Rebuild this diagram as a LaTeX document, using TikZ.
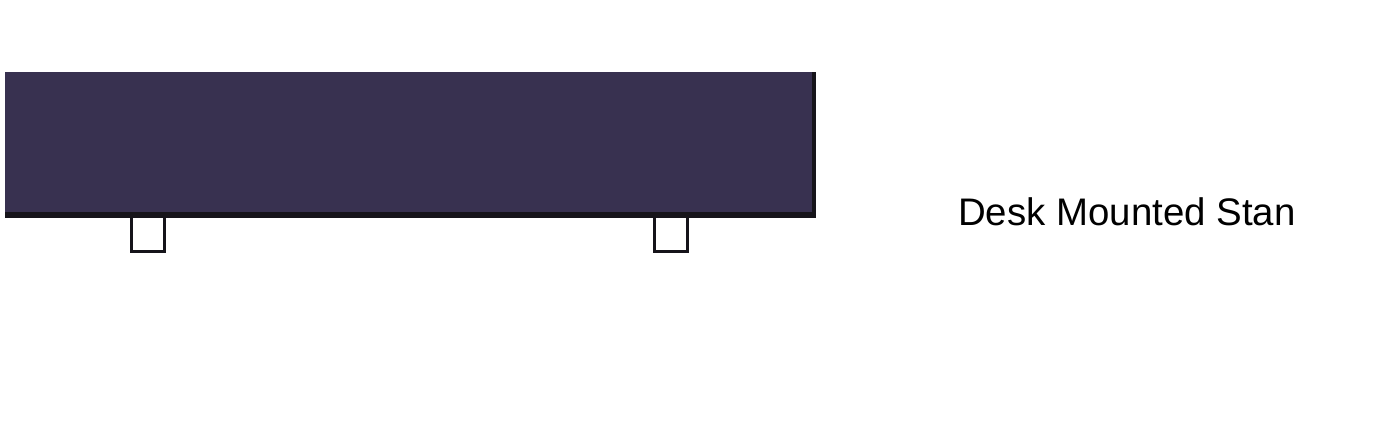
\documentclass[tikz,border=0pt]{standalone}
\usepackage{fontspec}
\setmainfont{Liberation Sans}
\definecolor{panel}{RGB}{56,49,80}
\definecolor{edge}{RGB}{22,20,26}
\begin{document}
\begin{tikzpicture}[x=1pt,y=-1pt,
  foot/.style={draw=edge,line width=3pt},
  label/.style={font=\fontsize{38.4}{46}\selectfont,inner sep=0pt,anchor=base west}]
\useasboundingbox[fill=white] (0,0) rectangle (1382,432);
% panel
\fill[panel] (5,72) rectangle (813,213);
\fill[edge] (5,212) rectangle (816,218);
\fill[edge] (812,72) rectangle (816,218);
% feet
\draw[foot] (131.5,218) -- (131.5,251.5) -- (164.5,251.5) -- (164.5,218);
\draw[foot] (654.5,218) -- (654.5,251.5) -- (687.5,251.5) -- (687.5,218);
% label
\node[label] (lbl) at (958,225) {Desk Mounted Stan};
\end{tikzpicture}
\end{document}
